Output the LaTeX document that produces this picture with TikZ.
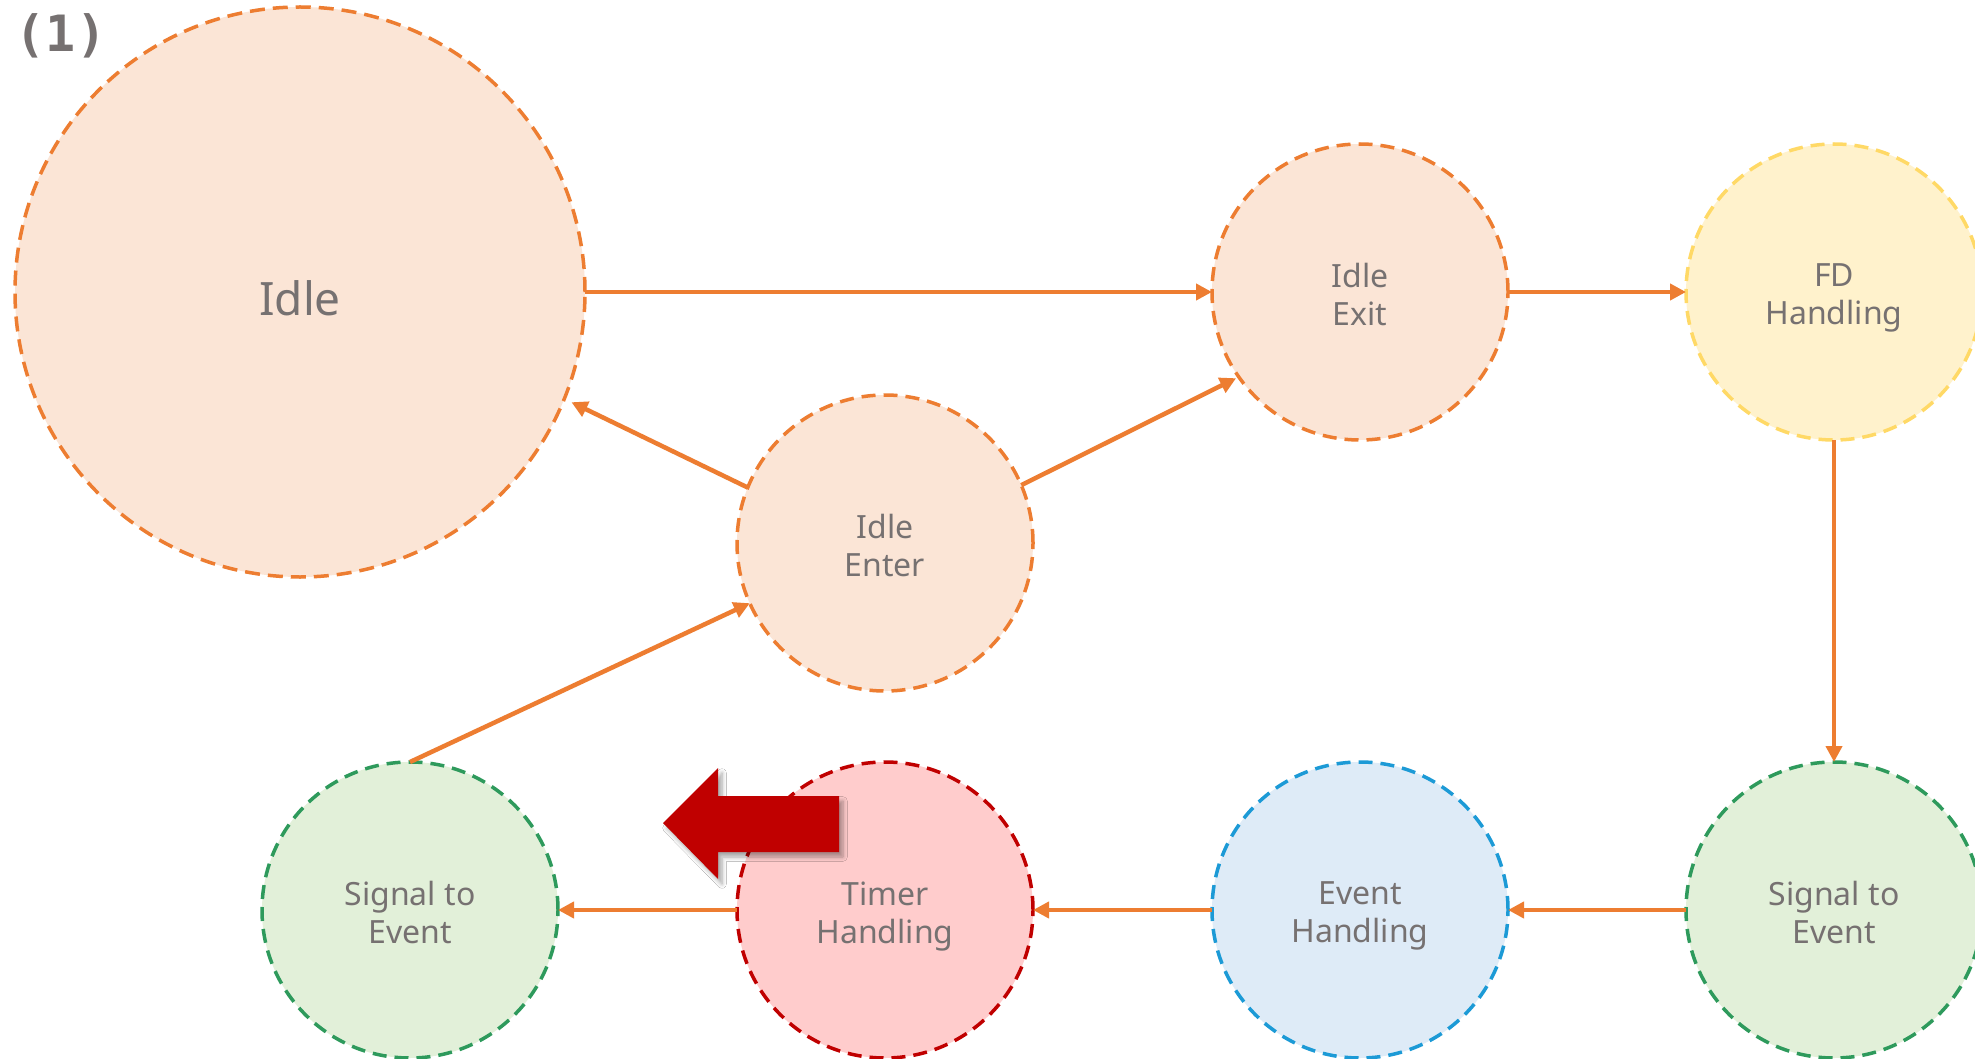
\documentclass[tikz,border=0pt]{standalone}
\usepackage{fontspec}
\setmainfont{Noto Sans}
\newfontfamily\monofnt{DejaVu Sans Mono}
\usetikzlibrary{arrows.meta,shadows.blur}
\definecolor{orng}{HTML}{ED7D31}
\definecolor{peachfill}{HTML}{FBE5D6}
\definecolor{yelfill}{HTML}{FFF2CC}
\definecolor{yeldraw}{HTML}{FFD966}
\definecolor{grnfill}{HTML}{E2F0D9}
\definecolor{grndraw}{HTML}{2E9A5C}
\definecolor{blufill}{HTML}{DEEBF7}
\definecolor{bludraw}{HTML}{1C9AD6}
\definecolor{redfill}{HTML}{FFCCCC}
\definecolor{reddraw}{HTML}{C00000}
\definecolor{txtgray}{HTML}{767171}
\begin{document}
\begin{tikzpicture}[x=0.5pt,y=-0.5pt,
  state/.style={circle, inner sep=0pt, outer sep=0pt, minimum size=148pt,
    line width=1.75pt, dash pattern=on 7pt off 4pt},
  lbl/.style={text=txtgray, font=\fontsize{16}{19}\selectfont, align=center,
    text depth=0pt, inner sep=0pt, yshift=-1.1pt},
  biglbl/.style={lbl, font=\fontsize{23}{28}\selectfont, yshift=-1.9pt},
  peach/.style={state, draw=orng, fill=peachfill},
  yel/.style={state, draw=yeldraw, fill=yelfill},
  grn/.style={state, draw=grndraw, fill=grnfill},
  blu/.style={state, draw=bludraw, fill=blufill},
  rd/.style={state, draw=reddraw, fill=redfill},
  conn/.style={draw=orng, line width=2.25pt, -{Triangle[length=8pt,width=8pt]}},
  bigarrow/.style={fill=reddraw, blur shadow={shadow xshift=2pt, shadow yshift=-2.5pt, shadow opacity=35, shadow blur steps=6}}
]
\clip (0,0) rectangle (1975,1059);
\fill[white] (0,0) rectangle (1975,1059);

\node[text=txtgray, font=\monofnt\bfseries\fontsize{25}{25}\selectfont] (num) at (61,36) {(1)};

\node[peach, minimum size=285pt, dash pattern=on 7.5pt off 4pt, label={[biglbl]center:Idle}] (idle) at (300,292) {};
\node[peach, label={[lbl]center:{Idle\\Exit}}] (exit) at (1360,292) {};
\node[yel, label={[lbl]center:{FD\\Handling}}] (fd) at (1834,292) {};
\node[peach, label={[lbl]center:{Idle\\Enter}}] (enter) at (885,543) {};
\node[grn, label={[lbl]center:{Signal to\\Event}}] (sigL) at (410,910) {};
\node[rd, label={[lbl]center:{Timer\\Handling}}] (timer) at (885,910) {};
\node[blu, label={[lbl]center:{Event\\Handling}}] (event) at (1360,910) {};
\node[grn, label={[lbl]center:{Signal to\\Event}}] (sigR) at (1834,910) {};

\draw[conn] (idle.east) -- (exit.west);
\draw[conn] (exit.east) -- (fd.west);
\draw[conn] (fd.south) -- (sigR.north);
\draw[conn] (sigR.west) -- (event.east);
\draw[conn] (event.west) -- (timer.east);
\draw[conn] (timer.west) -- (sigL.east);
\draw[conn] (sigL.north) -- (enter.204);
\draw[conn, shorten >=4pt] (enter.158) -- (idle.338);
\draw[conn, shorten >=1.5pt] (enter.23) -- (exit.215);

\path[bigarrow] (663,823) -- (718,768) -- (718,796) -- (839,796) -- (839,852) -- (718,852) -- (718,879) -- cycle;
\end{tikzpicture}
\end{document}
